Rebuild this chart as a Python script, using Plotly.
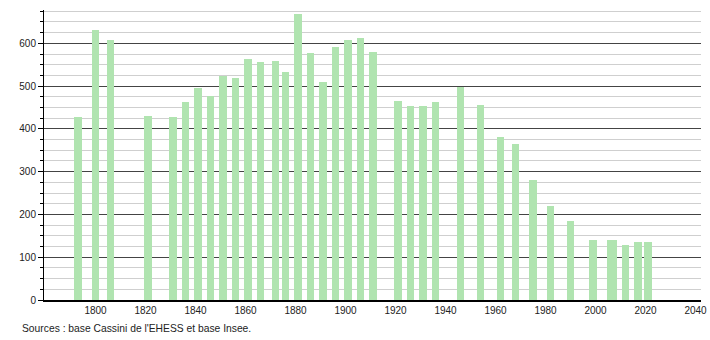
import plotly.graph_objects as go

years = [1793, 1800, 1806, 1821, 1831, 1836, 1841, 1846, 1851, 1856, 1861, 1866,
         1872, 1876, 1881, 1886, 1891, 1896, 1901, 1906, 1911, 1921, 1926, 1931,
         1936, 1946, 1954, 1962, 1968, 1975, 1982, 1990, 1999, 2006, 2007, 2012,
         2017, 2021]
population = [428, 631, 609, 430, 428, 463, 496, 477, 524, 519, 563, 556,
              559, 533, 668, 577, 510, 591, 608, 612, 580, 465, 454, 454,
              463, 498, 456, 381, 365, 281, 220, 185, 140, 140, 140, 129,
              136, 136]
x_ticks = list(range(1800, 2041, 20))
y_ticks = list(range(0, 601, 100))
source_text = "Sources : base Cassini de l'EHESS et base Insee."

bar_color = "rgb(176,228,176)"

fig = go.Figure(go.Bar(x=years, y=population, width=3.1,
                       marker=dict(color=bar_color, line=dict(width=0))))

fig.update_layout(
    width=710, height=340, autosize=False,
    margin=dict(l=44, r=9, t=10, b=40, pad=0, autoexpand=False),
    plot_bgcolor="white", paper_bgcolor="white",
    font=dict(family="Liberation Sans, Arial, sans-serif", size=10, color="#222"),
    showlegend=False,
    bargap=0,
    annotations=[dict(text=source_text, xref="paper", yref="paper",
                      x=-0.0365, y=-0.097, xanchor="left", yanchor="middle",
                      showarrow=False, font=dict(size=10.3, color="#222"))],
)
fig.update_xaxes(range=[1779.4, 2042.2], tickvals=x_ticks, ticks="",
                 showgrid=False, showline=True, linecolor="black", linewidth=1.5,
                 zeroline=False, fixedrange=True, automargin=False)
fig.update_yaxes(range=[0, 678], tickvals=y_ticks, ticks="outside", ticklen=5,
                 tickcolor="black", showline=True, linecolor="black", linewidth=1,
                 gridcolor="#444", gridwidth=1, zeroline=False, automargin=False,
                 minor=dict(dtick=25, tick0=0, showgrid=True, gridcolor="#cfcfcf",
                            gridwidth=1, ticks="outside", ticklen=3, tickcolor="black"))

fig.write_html("out.html")
